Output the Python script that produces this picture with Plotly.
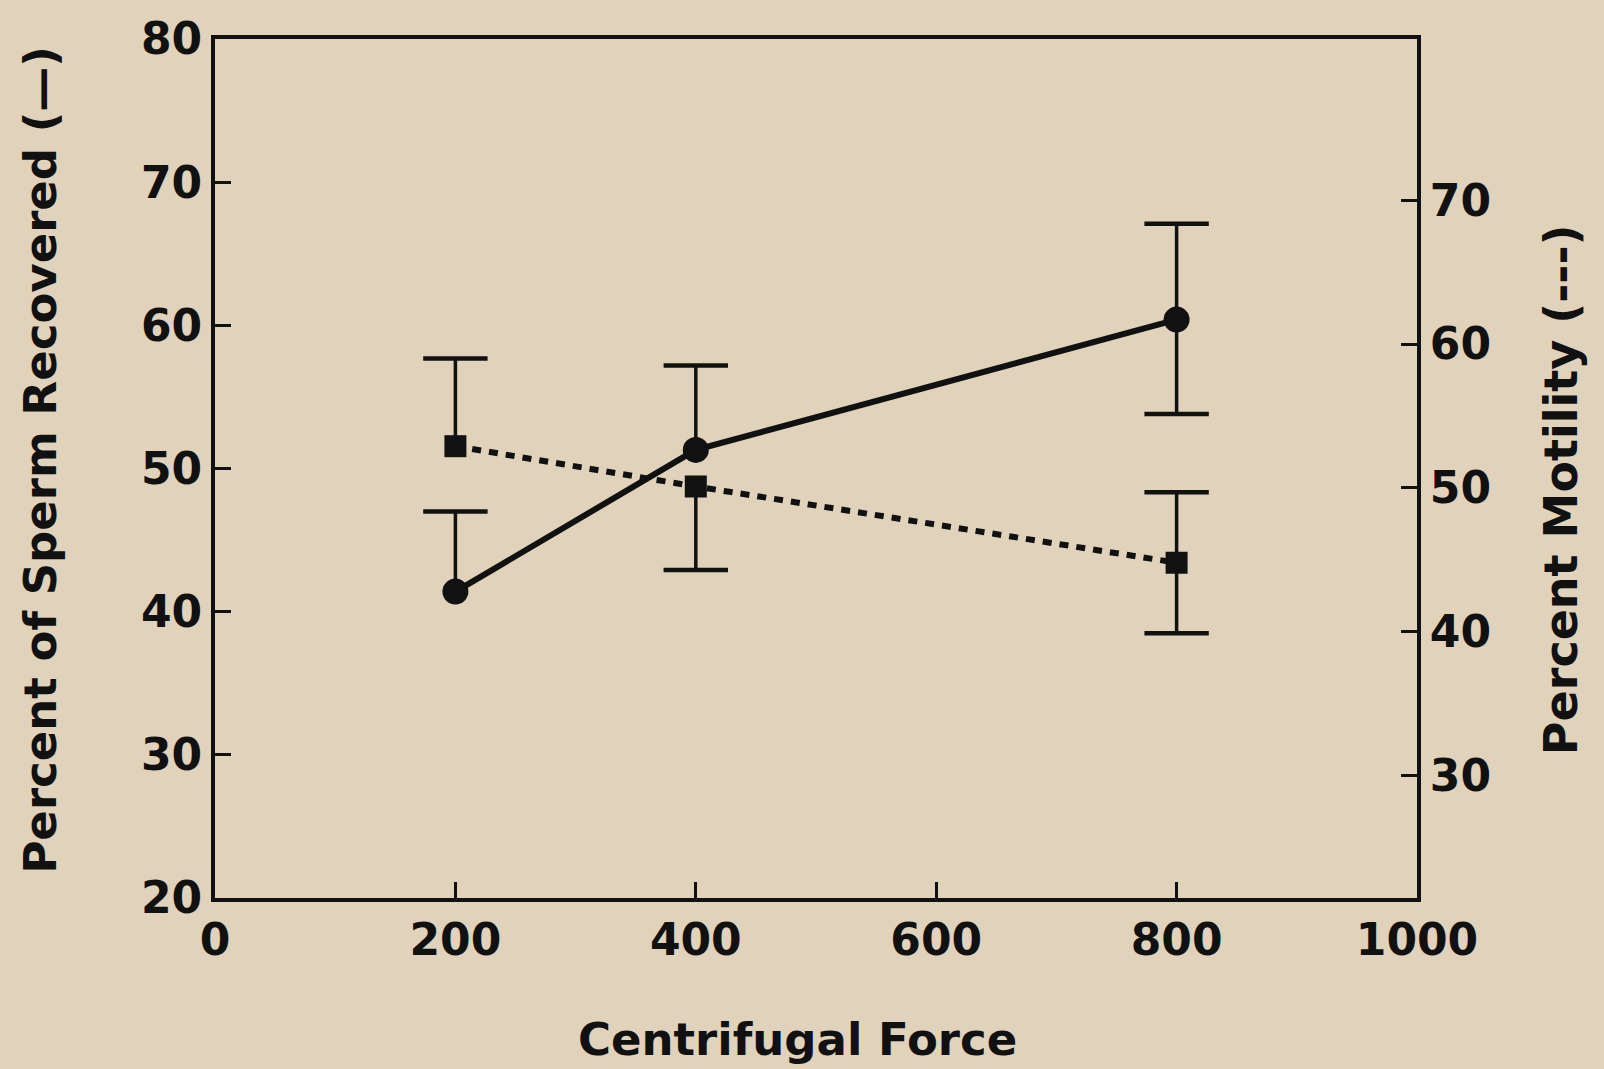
import plotly.graph_objects as go

# Data
force = [200, 400, 800]
sperm_recovered = [41.4, 51.3, 60.4]          # left axis, solid line, circles
recovered_err_plus = [5.6, 5.9, 6.7]
recovered_err_minus = [0.0, 0.0, 6.6]
motility = [52.9, 50.1, 44.8]                  # right axis, dotted line, squares
motility_err_plus = [6.1, 0.0, 4.9]
motility_err_minus = [0.0, 5.8, 4.9]

x_ticks = [0, 200, 400, 600, 800, 1000]
left_ticks = [20, 30, 40, 50, 60, 70, 80]
right_ticks = [30, 40, 50, 60, 70]

BG = "#e1d2bb"
INK = "#111111"
FONT = "DejaVu Sans"


def error_traces(xs, ys, plus, minus, yaxis):
    """One-sided error bars: stems as line segments, caps as line-ew markers."""
    sx, sy, cx, cy = [], [], [], []
    for x, y, p, m in zip(xs, ys, plus, minus):
        for e in (p, -m):
            if e != 0:
                sx += [x, x, None]
                sy += [y, y + e, None]
                cx.append(x)
                cy.append(y + e)
    stems = go.Scatter(x=sx, y=sy, mode="lines", line=dict(color=INK, width=3.5),
                       yaxis=yaxis, hoverinfo="skip", showlegend=False)
    caps = go.Scatter(x=cx, y=cy, mode="markers", yaxis=yaxis, hoverinfo="skip",
                      showlegend=False,
                      marker=dict(symbol="line-ew", size=46, color=INK,
                                  line=dict(color=INK, width=4.5)))
    return [stems, caps]


fig = go.Figure()
for t in error_traces(force, sperm_recovered, recovered_err_plus, recovered_err_minus, "y"):
    fig.add_trace(t)
for t in error_traces(force, motility, motility_err_plus, motility_err_minus, "y2"):
    fig.add_trace(t)

fig.add_trace(go.Scatter(
    x=force, y=sperm_recovered, mode="lines+markers",
    line=dict(color=INK, width=6),
    marker=dict(symbol="circle", size=26, color=INK),
    name="Percent of Sperm Recovered", yaxis="y"))
fig.add_trace(go.Scatter(
    x=force, y=motility, mode="lines+markers",
    line=dict(color=INK, width=6, dash="9px,8px"),
    marker=dict(symbol="square", size=22, color=INK),
    name="Percent Motility", yaxis="y2"))

tickfont = dict(family=FONT, size=44, color=INK, weight="bold")
axis_common = dict(showgrid=False, zeroline=False, showline=True, linecolor=INK,
                   linewidth=4, ticks="inside", ticklen=16, tickwidth=3,
                   tickcolor=INK, tickfont=tickfont)

fig.update_layout(
    width=1604, height=1069,
    paper_bgcolor=BG, plot_bgcolor=BG,
    showlegend=False,
    margin=dict(l=215, r=187, t=39, b=171),
    xaxis=dict(range=[0, 1000], tickvals=x_ticks, ticktext=[str(v) for v in x_ticks],
               mirror=True, **axis_common),
    yaxis=dict(range=[20, 80], tickvals=left_ticks, ticktext=[str(v) for v in left_ticks],
               **axis_common),
    yaxis2=dict(range=[21.5, 81.2], overlaying="y", side="right",
                tickvals=right_ticks, ticktext=[str(v) for v in right_ticks],
                **axis_common),
    annotations=[
        dict(text="Centrifugal Force", xref="paper", yref="paper",
             x=0.485, y=-0.165, xanchor="center", yanchor="middle", showarrow=False,
             font=dict(family=FONT, size=45, color=INK, weight="bold")),
        dict(text="Percent of Sperm Recovered (—)", xref="paper", yref="paper",
             x=-0.145, y=0.51, xanchor="center", yanchor="middle", showarrow=False,
             textangle=-90,
             font=dict(family=FONT, size=45, color=INK, weight="bold")),
        dict(text="Percent Motility (---)", xref="paper", yref="paper",
             x=1.12, y=0.475, xanchor="center", yanchor="middle", showarrow=False,
             textangle=-90,
             font=dict(family=FONT, size=46, color=INK, weight="bold")),
    ],
)

fig.write_html(
    "out.html",
    config={"displayModeBar": False},
    post_script="document.body.style.margin='0';document.body.style.background='%s';" % BG,
)
